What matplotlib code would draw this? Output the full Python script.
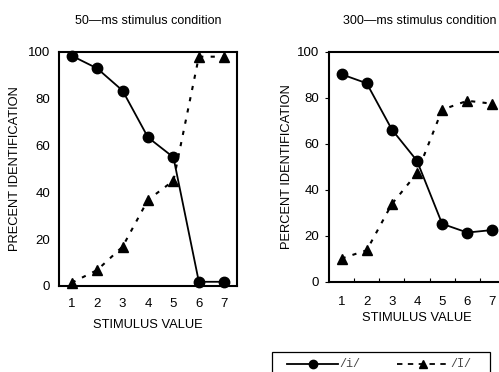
import matplotlib
matplotlib.use("Agg")
import matplotlib.pyplot as plt
from matplotlib.lines import Line2D
from matplotlib.patches import Rectangle

plt.rcParams['font.family'] = ['Liberation Sans', 'DejaVu Sans']

stimulus = [1, 2, 3, 4, 5, 6, 7]
i_50 = [98.4, 93, 83.5, 63.5, 55, 1.8, 1.8]
I_50 = [1.4, 6.8, 16.8, 36.8, 45, 98, 98]
i_300 = [90.3, 86.4, 66.3, 52.7, 25.3, 21.5, 22.6]
I_300 = [10.2, 13.8, 33.9, 47.3, 74.9, 78.8, 77.5]
yticks = [0, 20, 40, 60, 80, 100]
titles = ["50\u2014ms stimulus condition", "300\u2014ms stimulus condition"]
ylabels = ["PRECENT IDENTIFICATION", "PERCENT IDENTIFICATION"]
xlabel = "STIMULUS VALUE"
legend_labels = ["/i/", "/I/"]

W, H = 499, 372
fig = plt.figure(figsize=(W/100, H/100), dpi=100)
fs_lab = 9.3
fs_tick = 9.5
fs_title = 9.0
ms = 7.5
dot = (0, (2, 3.5))

ax1 = fig.add_axes([59/W, 1-286/H, 178/W, 234/H])
ax2 = fig.add_axes([329/W, 1-282/H, 176/W, 230/H])

for ax, yi, yI, yl in [(ax1, i_50, I_50, ylabels[0]),
                       (ax2, i_300, I_300, ylabels[1])]:
    ax.plot(stimulus, yi, '-', color='black', lw=1.3, marker='o', ms=ms, clip_on=False, zorder=3)
    ax.plot(stimulus, yI, ls=dot, color='black', lw=1.5, marker='^', ms=ms, clip_on=False, zorder=3)
    ax.set_xlim(0.5, 7.5)
    ax.set_ylim(0, 100)
    ax.set_yticks(yticks)
    ax.set_xticks(stimulus)
    ax.set_xlabel(xlabel, fontsize=fs_lab)
    ax.set_ylabel(yl, fontsize=fs_lab)
    for s in ax.spines.values():
        s.set_linewidth(1.5)

ax1.tick_params(axis='y', length=0, labelsize=fs_tick, pad=6.5)
ax1.tick_params(axis='x', length=0, labelsize=fs_tick, pad=8.5)
ax1.set_title(titles[0], fontsize=fs_title, pad=20)
ax1.xaxis.set_label_coords(0.5, (286-319)/234)
ax1.yaxis.set_label_coords((21-59)/178, 0.5)

ax2.tick_params(axis='y', length=3, direction='out', labelsize=fs_tick, pad=4)
ax2.tick_params(axis='x', which='major', length=0, labelsize=fs_tick, pad=10)
ax2.set_xticks([1.5, 2.5, 3.5, 4.5, 5.5, 6.5], minor=True)
ax2.tick_params(axis='x', which='minor', length=3, direction='in', width=0.8)
ax2.set_title(titles[1], fontsize=fs_title, pad=20, x=(420-329)/176)
ax2.xaxis.set_label_coords((417-329)/176, (282-312)/230)
ax2.yaxis.set_label_coords((293-329)/176, 0.5)

# legend drawn manually in figure pixel coordinates
def fx(px):
    return px / W

def fy(py):
    return 1 - py / H

fig.add_artist(Rectangle((fx(272), fy(385)), fx(490) - fx(272), fy(352) - fy(385),
                         transform=fig.transFigure, fill=False, edgecolor='black', lw=0.9))
ly = fy(364)
fig.add_artist(Line2D([fx(287), fx(338)], [ly, ly], transform=fig.transFigure,
                      color='black', lw=1.3))
fig.add_artist(Line2D([fx(312.5)], [ly], transform=fig.transFigure,
                      color='black', marker='o', ms=6))
fig.add_artist(Line2D([fx(397), fx(448)], [ly, ly], transform=fig.transFigure,
                      color='black', lw=1.3, ls=(0, (3, 3))))
fig.add_artist(Line2D([fx(422.5)], [ly], transform=fig.transFigure,
                      color='black', marker='^', ms=6))
fig.text(fx(339), ly, legend_labels[0], ha='left', va='center', fontsize=8.5,
         family='Liberation Mono', color='#444444')
fig.text(fx(450), ly, legend_labels[1], ha='left', va='center', fontsize=8.5,
         family='Liberation Mono', color='#444444')

fig.savefig("out.png", dpi=100)
